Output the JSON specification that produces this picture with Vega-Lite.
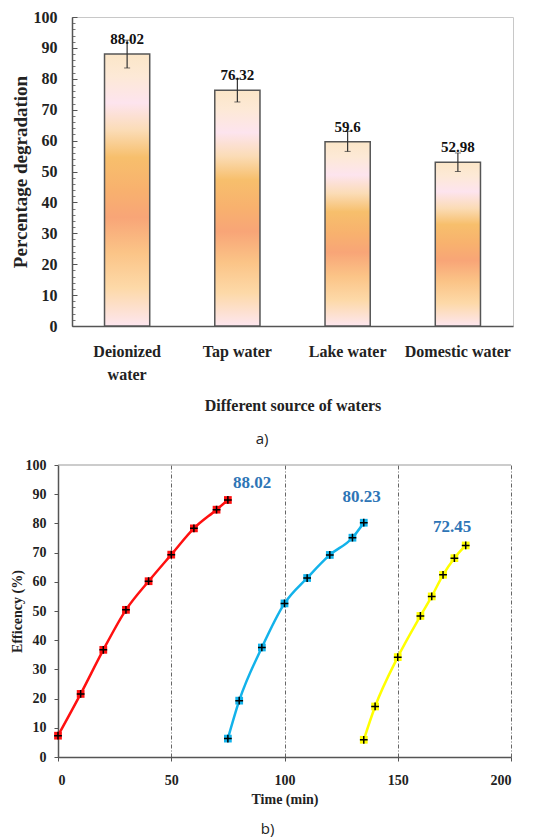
{
  "$schema": "https://vega.github.io/schema/vega-lite/v6.json",
  "padding": {"left": 10, "top": 8, "right": 0, "bottom": 0},
  "background": "white",
  "columns": 1,
  "align": "none",
  "spacing": 10,
  "config": {
    "font": "Liberation Serif, Times New Roman, DejaVu Serif, serif",
    "axis": {"labelFont": "Liberation Serif, Times New Roman, DejaVu Serif, serif", "titleFont": "Liberation Serif, Times New Roman, DejaVu Serif, serif", "labelFontWeight": "bold", "titleFontWeight": "bold", "labelColor": "#222", "titleColor": "#222", "domainColor": "#555", "tickColor": "#555", "grid": false},
    "title": {"font": "Open Sans", "fontWeight": "normal", "fontSize": 15, "color": "#222"}
  },
  "concat": [
    {
      "width": 441,
      "height": 309,
      "view": {"stroke": "#c8c8c8", "strokeWidth": 1},
      "title": {"text": "a)", "orient": "bottom", "anchor": "middle", "frame": "bounds", "offset": 19},
      "resolve": {"axis": {"y": "independent"}},
      "data": {"values": [
        {"source": "Deionized water", "value": 88.02, "low": 83.5, "high": 92.5},
        {"source": "Tap water", "value": 76.32, "low": 72.5, "high": 80.0},
        {"source": "Lake water", "value": 59.6, "low": 56.5, "high": 63.0},
        {"source": "Domestic water", "value": 52.98, "low": 50.0, "high": 56.0}
      ]},
      "encoding": {
        "x": {"field": "source", "type": "nominal", "sort": null,
          "scale": {"paddingInner": 0.59, "paddingOuter": 0.295},
          "axis": {"title": "Different source of waters", "labelAngle": 0, "labelFontSize": 16, "titleFontSize": 16, "labelPadding": 17, "titlePadding": 15, "ticks": false, "domainWidth": 1.5, "labelLineHeight": 23, "labelBaseline": "top",
            "labelExpr": "datum.label == 'Deionized water' ? ['Deionized', 'water'] : datum.label"}}
      },
      "layer": [
        {
          "mark": {"type": "point", "opacity": 0},
          "encoding": {
            "y": {"field": "value", "type": "quantitative", "scale": {"domain": [0, 100]},
              "axis": {"orient": "left", "title": null, "values": [0, 2, 4, 6, 8, 10, 12, 14, 16, 18, 20, 22, 24, 26, 28, 30, 32, 34, 36, 38, 40, 42, 44, 46, 48, 50, 52, 54, 56, 58, 60, 62, 64, 66, 68, 70, 72, 74, 76, 78, 80, 82, 84, 86, 88, 90, 92, 94, 96, 98, 100], "labels": false, "domain": false, "tickSize": -3, "tickColor": "#777"}}
          }
        },
        {
          "mark": {"type": "bar", "stroke": "#555", "strokeWidth": 1.5,
            "fill": {"gradient": "linear", "x1": 0, "y1": 1, "x2": 0, "y2": 0,
              "stops": [
                {"offset": 0, "color": "#fde6ef"},
                {"offset": 0.14, "color": "#fdd9a8"},
                {"offset": 0.27, "color": "#fbc487"},
                {"offset": 0.4, "color": "#f8a577"},
                {"offset": 0.5, "color": "#f8b16e"},
                {"offset": 0.62, "color": "#f7bf6c"},
                {"offset": 0.72, "color": "#fbdcb6"},
                {"offset": 0.82, "color": "#fde4ee"},
                {"offset": 0.92, "color": "#fde9d6"},
                {"offset": 1, "color": "#fbe6c8"}
              ]}},
          "encoding": {
            "y": {"field": "value", "type": "quantitative", "scale": {"domain": [0, 100]},
              "axis": {"orient": "left", "title": "Percentage degradation", "values": [0, 10, 20, 30, 40, 50, 60, 70, 80, 90, 100], "labelFontSize": 16, "titleFontSize": 19, "tickSize": -5, "labelPadding": 20, "titlePadding": 3, "domainWidth": 1.5}}
          }
        },
        {
          "mark": {"type": "errorbar", "ticks": {"size": 6, "color": "#333"}, "rule": {"color": "#333", "strokeWidth": 1.2}},
          "encoding": {
            "y": {"field": "low", "type": "quantitative", "axis": null},
            "y2": {"field": "high"}
          }
        },
        {
          "mark": {"type": "text", "baseline": "middle", "dy": -15, "fontSize": 15, "fontWeight": "bold", "color": "#111"},
          "encoding": {
            "y": {"field": "value", "type": "quantitative", "axis": null},
            "text": {"field": "value", "type": "nominal"}
          }
        }
      ]
    },
    {
      "width": 439,
      "height": 292,
      "view": {"stroke": null},
      "title": {"text": "b)", "orient": "bottom", "anchor": "middle", "frame": "bounds", "offset": 16},
      "encoding": {
        "x": {"field": "time", "type": "quantitative", "scale": {"domain": [0, 200], "range": [-14, 439]},
          "axis": {"title": "Time (min)", "values": [0, 50, 100, 150, 200], "labelFontSize": 14, "titleFontSize": 14, "tickSize": 4, "labelPadding": 12, "titlePadding": 5, "domainWidth": 1.5,
            "grid": true, "gridColor": "#666", "gridDash": [4, 2, 1, 2], "gridWidth": 1}},
        "y": {"field": "eff", "type": "quantitative", "scale": {"domain": [0, 100]},
          "axis": {"title": "Efficency (%)", "values": [0, 10, 20, 30, 40, 50, 60, 70, 80, 90, 100], "labelFontSize": 14, "titleFontSize": 14, "tickSize": 4, "labelPadding": 8, "titlePadding": 1, "domainWidth": 1.5, "offset": 14}}
      },
      "layer": [
        {
          "data": {"values": [
            {"series": "Run 1", "time": 0, "eff": 7.3},
            {"series": "Run 1", "time": 10, "eff": 21.6},
            {"series": "Run 1", "time": 20, "eff": 36.7},
            {"series": "Run 1", "time": 30, "eff": 50.4},
            {"series": "Run 1", "time": 40, "eff": 60.2},
            {"series": "Run 1", "time": 50, "eff": 69.3},
            {"series": "Run 1", "time": 60, "eff": 78.3},
            {"series": "Run 1", "time": 70, "eff": 84.7},
            {"series": "Run 1", "time": 75, "eff": 88.02},
            {"series": "Run 2", "time": 75, "eff": 6.3},
            {"series": "Run 2", "time": 80, "eff": 19.3},
            {"series": "Run 2", "time": 90, "eff": 37.5},
            {"series": "Run 2", "time": 100, "eff": 52.6},
            {"series": "Run 2", "time": 110, "eff": 61.3},
            {"series": "Run 2", "time": 120, "eff": 69.2},
            {"series": "Run 2", "time": 130, "eff": 75.1},
            {"series": "Run 2", "time": 135, "eff": 80.23},
            {"series": "Run 3", "time": 135, "eff": 5.9},
            {"series": "Run 3", "time": 140, "eff": 17.3},
            {"series": "Run 3", "time": 150, "eff": 34.2},
            {"series": "Run 3", "time": 160, "eff": 48.3},
            {"series": "Run 3", "time": 165, "eff": 55.0},
            {"series": "Run 3", "time": 170, "eff": 62.4},
            {"series": "Run 3", "time": 175, "eff": 68.1},
            {"series": "Run 3", "time": 180, "eff": 72.45}
          ]},
          "encoding": {"detail": {"field": "series"}},
          "layer": [
            {"mark": {"type": "line", "interpolate": "monotone", "strokeWidth": 2.5},
             "encoding": {"color": {"field": "series", "type": "nominal", "legend": null,
              "scale": {"domain": ["Run 1", "Run 2", "Run 3"], "range": ["#ff1010", "#12b2ea", "#ffff00"]}}}},
            {"mark": {"type": "point", "shape": "square", "filled": true, "size": 60, "opacity": 1},
             "encoding": {"color": {"field": "series", "type": "nominal", "legend": null}}},
            {"mark": {"type": "point", "shape": "M-1,0L1,0M0,-1L0,1", "filled": false, "size": 60, "strokeWidth": 1.5, "opacity": 1},
             "encoding": {"color": {"value": "#000"}}}
          ]
        },
        {
          "data": {"values": [
            {"time": 85.7, "eff": 93.8, "label": "88.02"},
            {"time": 134, "eff": 89, "label": "80.23"},
            {"time": 174, "eff": 78.8, "label": "72.45"}
          ]},
          "mark": {"type": "text", "fontSize": 17, "fontWeight": "bold", "color": "#2e75b6", "baseline": "middle"},
          "encoding": {
            "text": {"field": "label"}
          }
        },
        {
          "data": {"values": [{"time": 0, "time_end": 200, "eff": 100}]},
          "mark": {"type": "rule", "color": "#999", "strokeWidth": 1},
          "encoding": {"x2": {"field": "time_end"}}
        }
      ]
    }
  ]
}
